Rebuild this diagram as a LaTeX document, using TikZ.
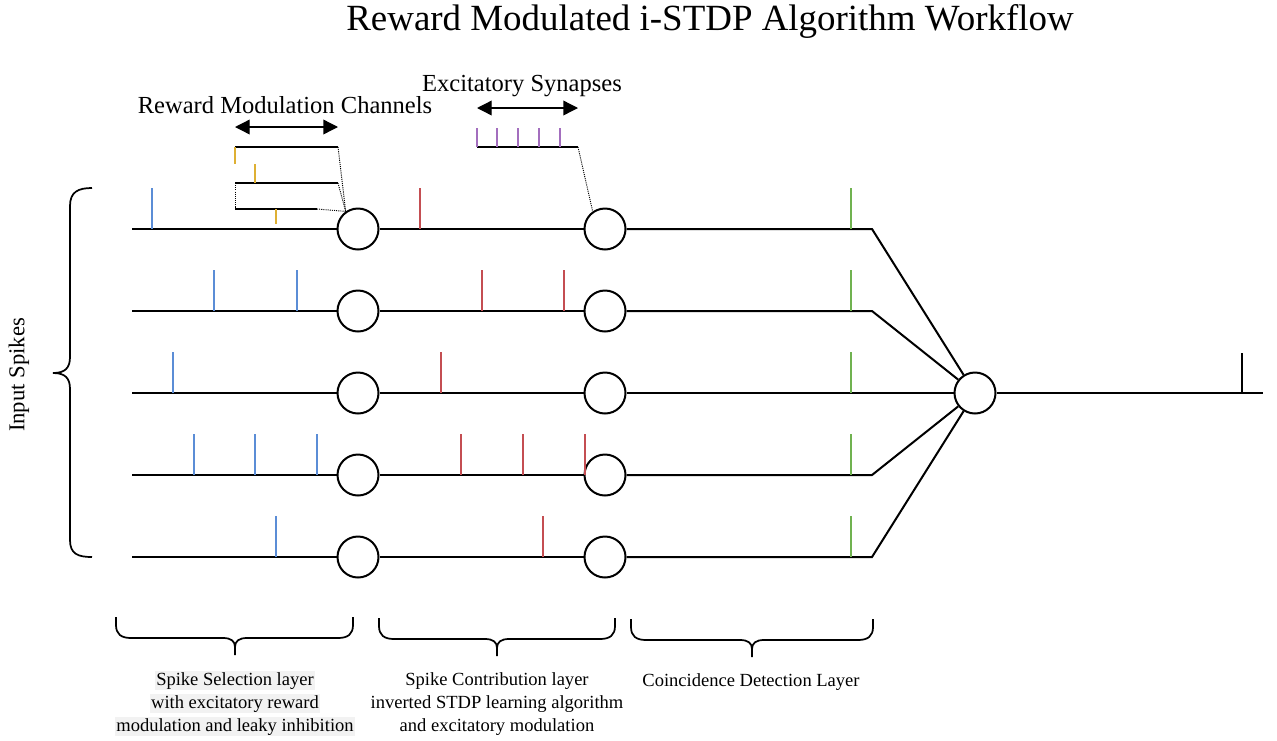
\documentclass[tikz,border=0pt]{standalone}
\usepackage{fontspec}
\setmainfont{Liberation Serif}
\usetikzlibrary{arrows.meta}
\definecolor{sblue}{RGB}{91,141,214}
\definecolor{sred}{RGB}{196,78,82}
\definecolor{sgreen}{RGB}{112,178,80}
\definecolor{syellow}{RGB}{222,176,52}
\definecolor{spurple}{RGB}{163,110,190}
\definecolor{hl}{RGB}{242,242,242}
\newcommand\drawbrace[4]{%
  \draw[braceline] (#1,#4) -- (#1,#4+8) .. controls (#1,#4+17) and (#1+5,#4+21) .. (#1+15,#4+21)
    -- (#2-12,#4+21) .. controls (#2-4,#4+21) and (#2,#4+24) .. (#2,#4+30) -- (#2,#4+38);
  \draw[braceline] (#3,#4) -- (#3,#4+8) .. controls (#3,#4+17) and (#3-5,#4+21) .. (#3-15,#4+21)
    -- (#2+12,#4+21) .. controls (#2+4,#4+21) and (#2,#4+24) .. (#2,#4+30);
}
\begin{document}
\begin{tikzpicture}[x=0.75pt,y=-0.75pt,
  wire/.style={line width=1.5pt},
  braceline/.style={line width=1.3pt},
  neuron/.style={circle,draw,line width=1.5pt,minimum size=30.75pt,inner sep=0pt,fill=white},
  spike/.style={line width=1.1pt},
  dots/.style={dash pattern=on 0.8pt off 0.8pt,line width=0.7pt},
  darrow/.style={line width=1pt,{Triangle[length=11pt,width=11pt]}-{Triangle[length=11pt,width=11pt]}},
  lbl/.style={font=\fontsize{18.4}{22}\selectfont,inner sep=0pt,anchor=base},
  small/.style={font=\fontsize{13.9}{17.25}\selectfont,align=center,inner sep=0pt,anchor=north}]
\useasboundingbox (0,0) rectangle (1277,740);

% title
\node[lbl,font=\fontsize{27.7}{32}\selectfont] (title) at (710,30) {Reward Modulated i-STDP Algorithm Workflow};

% rows
\foreach \i/\y in {1/229,2/311,3/393,4/475,5/557}{
  \coordinate (s\i) at (132,\y);
  \coordinate (k\i) at (872,\y);
  \node[neuron] (a\i) at (358,\y) {};
  \node[neuron] (b\i) at (605,\y) {};
}
\node[neuron] (c) at (975,393) {};
\coordinate (out) at (1263,393);
\coordinate (outspike) at (1242,393);

\foreach \i in {1,...,5}{
  \draw[wire] (s\i) -- (a\i);
  \draw[wire] (a\i) -- (b\i);
}
\draw[wire] (b1) -- (k1) -- (c);
\draw[wire] (b2) -- (k2) -- (c);
\draw[wire] (b3) -- (c);
\draw[wire] (b4) -- (k4) -- (c);
\draw[wire] (b5) -- (k5) -- (c);
\draw[wire] (c) -- (out);
\draw[wire] (outspike) -- ++(0,-40);

% spikes
\foreach \x/\y in {152/229,214/311,297/311,173/393,194/475,255/475,317/475,276/557}
  \draw[spike,sblue] (\x,\y) -- ++(0,-41);
\foreach \x/\y in {420/229,482/311,564/311,441/393,461/475,523/475,585/475,543/557}
  \draw[spike,sred] (\x,\y) -- ++(0,-41);
\foreach \y in {229,311,393,475,557}
  \draw[spike,sgreen] (851,\y) -- ++(0,-41);

% reward modulation channels
\coordinate (r1l) at (235,147); \coordinate (r1r) at (338,147);
\coordinate (r2l) at (235,183); \coordinate (r2r) at (338,183);
\coordinate (r3l) at (235,209); \coordinate (r3r) at (317,209);
\draw[wire] (r1l) -- (r1r);
\draw[wire] (r2l) -- (r2r);
\draw[wire] (r3l) -- (r3r);
\draw[dots] (r2l) -- (r3l);
\draw[dots] (r1r) -- (a1.125);
\draw[dots] (r2r) -- (a1.125);
\draw[dots] (r3r) -- (a1.125);
\draw[spike,syellow] (235,147) -- (235,164);
\draw[spike,syellow] (255,183) -- (255,164);
\draw[spike,syellow] (276,209) -- (276,224);
\coordinate (ral) at (235,127); \coordinate (rar) at (338,127);
\draw[darrow] (ral) -- (rar);
\node[lbl] (rmc) at (285,113) {Reward Modulation Channels};

% excitatory synapses
\coordinate (el) at (477,147); \coordinate (er) at (578,147);
\draw[wire] (el) -- (er);
\foreach \x in {477,497,518,539,560}
  \draw[spike,spurple] (\x,147) -- (\x,128);
\draw[dots] (er) -- (b1.125);
\coordinate (eal) at (477,108); \coordinate (ear) at (578,108);
\draw[darrow] (eal) -- (ear);
\node[lbl] (exs) at (522,91) {Excitatory Synapses};

% input spikes brace
\draw[braceline] (92,188) .. controls (78,188) and (70,192) .. (70,206) -- (70,357)
  .. controls (70,368) and (65,373) .. (53,373)
  .. controls (65,373) and (70,378) .. (70,389) -- (70,540)
  .. controls (70,554) and (78,557) .. (92,557);
\node[lbl,font=\fontsize{17}{20}\selectfont,anchor=center,rotate=90] (inp) at (19,375) {Input Spikes};

% bottom braces
\drawbrace{116}{235}{353}{617}
\drawbrace{379}{497}{615}{618}
\drawbrace{631}{752}{873}{619}

\setlength\fboxsep{0.8pt}
\node[small] (t1) at (235,671) {\colorbox{hl}{Spike Selection layer}\\\colorbox{hl}{with excitatory reward}\\\colorbox{hl}{modulation and leaky inhibition}};
\node[small] (t2) at (497,672) {Spike Contribution layer\\inverted STDP learning algorithm\\and excitatory modulation};
\node[small] (t3) at (751,673) {Coincidence Detection Layer};
\end{tikzpicture}
\end{document}
